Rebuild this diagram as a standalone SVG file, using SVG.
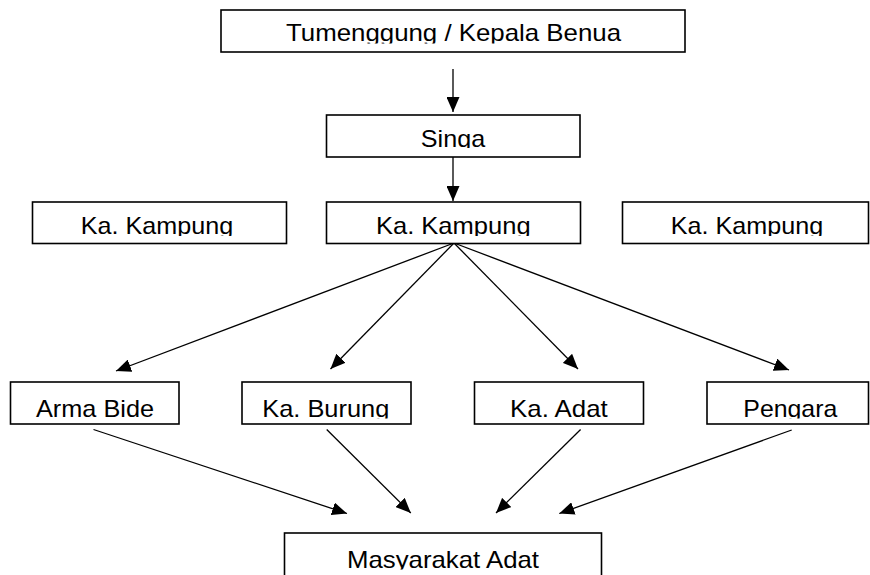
<svg xmlns="http://www.w3.org/2000/svg" width="870" height="575" viewBox="0 0 870 575">
<style>
.box{fill:#fff;stroke:#000;stroke-width:1.6}
.lbl{font-family:"Liberation Sans",Arial,sans-serif;font-size:24px;fill:#000;text-anchor:middle}
.con{stroke:#000;stroke-width:1.3;fill:none;marker-end:url(#ah)}
</style>
<defs>
<marker id="ah" markerUnits="userSpaceOnUse" markerWidth="15" markerHeight="13" refX="15" refY="6.5" orient="auto" viewBox="0 0 15 13">
<path d="M0,0 L15,6.5 L0,13 z" fill="#000"/>
</marker>
<clipPath id="c1" clipPathUnits="userSpaceOnUse"><rect x="0" y="0" width="870" height="43.5"/></clipPath>
<clipPath id="c2" clipPathUnits="userSpaceOnUse"><rect x="0" y="100" width="870" height="48"/></clipPath>
<clipPath id="c3" clipPathUnits="userSpaceOnUse"><rect x="0" y="190" width="870" height="46"/></clipPath>
<clipPath id="c4" clipPathUnits="userSpaceOnUse"><rect x="0" y="370" width="870" height="48.5"/></clipPath>
<clipPath id="c5" clipPathUnits="userSpaceOnUse"><rect x="0" y="520" width="870" height="49.5"/></clipPath>
</defs>
<g id="connectors">
<line class="con" x1="453" y1="69" x2="453" y2="112"/>
<line class="con" x1="453" y1="157" x2="453" y2="201"/>
<line class="con" x1="454" y1="243" x2="116" y2="371"/>
<line class="con" x1="454" y1="243" x2="330.5" y2="369"/>
<line class="con" x1="454" y1="243" x2="578" y2="369"/>
<line class="con" x1="454" y1="243" x2="789" y2="370"/>
<line class="con" x1="93.5" y1="429.5" x2="347" y2="513.5"/>
<line class="con" x1="326.7" y1="429.5" x2="410.8" y2="513"/>
<line class="con" x1="580.6" y1="429.5" x2="496" y2="513"/>
<line class="con" x1="791.7" y1="430" x2="559.3" y2="513.5"/>
</g>
<g id="n-tumenggung">
<rect class="box" x="221" y="10" width="464" height="42"/>
<text class="lbl" x="453.5" y="41" textLength="335" lengthAdjust="spacingAndGlyphs" clip-path="url(#c1)">Tumenggung / Kepala Benua</text>
</g>
<g id="n-singa">
<rect class="box" x="326.5" y="115" width="253.5" height="42"/>
<text class="lbl" x="453" y="146.5" textLength="64.3" lengthAdjust="spacingAndGlyphs" clip-path="url(#c2)">Singa</text>
</g>
<g id="n-kampung-left">
<rect class="box" x="32.5" y="202" width="254" height="41.5"/>
<text class="lbl" x="157" y="234" textLength="152.3" lengthAdjust="spacingAndGlyphs" clip-path="url(#c3)">Ka. Kampung</text>
</g>
<g id="n-kampung-mid">
<rect class="box" x="326.5" y="202" width="254" height="41.5"/>
<text class="lbl" x="453.3" y="234" textLength="154.7" lengthAdjust="spacingAndGlyphs" clip-path="url(#c3)">Ka. Kampung</text>
</g>
<g id="n-kampung-right">
<rect class="box" x="622.5" y="202" width="246" height="41.5"/>
<text class="lbl" x="747" y="234" textLength="152.3" lengthAdjust="spacingAndGlyphs" clip-path="url(#c3)">Ka. Kampung</text>
</g>
<g id="n-arma-bide">
<rect class="box" x="10.5" y="382" width="168.5" height="42"/>
<text class="lbl" x="95" y="416.5" textLength="118" lengthAdjust="spacingAndGlyphs" clip-path="url(#c4)">Arma Bide</text>
</g>
<g id="n-ka-burung">
<rect class="box" x="242" y="382" width="169" height="42"/>
<text class="lbl" x="325.8" y="416.5" textLength="127" lengthAdjust="spacingAndGlyphs" clip-path="url(#c4)">Ka. Burung</text>
</g>
<g id="n-ka-adat">
<rect class="box" x="474.5" y="382" width="169" height="42"/>
<text class="lbl" x="558.9" y="416.5" textLength="97.7" lengthAdjust="spacingAndGlyphs" clip-path="url(#c4)">Ka. Adat</text>
</g>
<g id="n-pengara">
<rect class="box" x="707" y="382" width="161.5" height="42"/>
<text class="lbl" x="790.3" y="416.5" textLength="94" lengthAdjust="spacingAndGlyphs" clip-path="url(#c4)">Pengara</text>
</g>
<g id="n-masyarakat-adat">
<rect class="box" x="284.5" y="533" width="317" height="50"/>
<text class="lbl" x="443" y="567.5" textLength="192" lengthAdjust="spacingAndGlyphs" clip-path="url(#c5)">Masyarakat Adat</text>
</g>
</svg>
